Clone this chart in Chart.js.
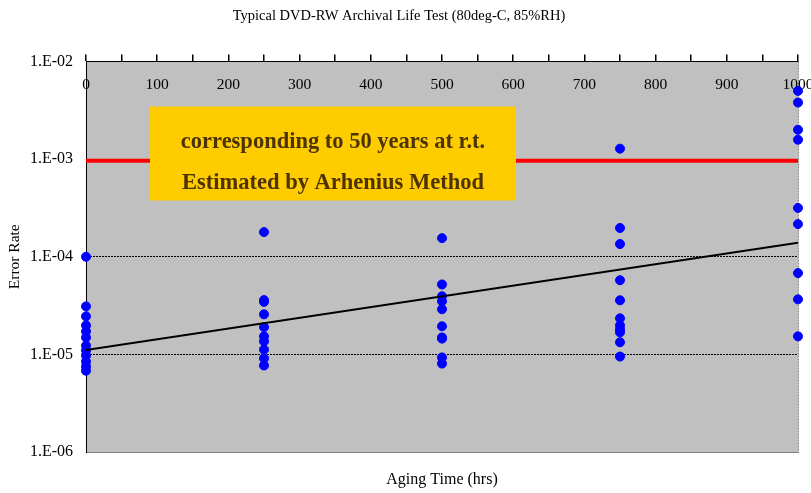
<!DOCTYPE html>
<html>
<head>
<meta charset="utf-8">
<script src="https://cdn.jsdelivr.net/npm/chart.js@4"></script>
<style>
  html, body { margin: 0; padding: 0; background: #fff; }
  #wrap { width: 811px; height: 493px; }
</style>
</head>
<body>
<div id="wrap"><canvas id="chart"></canvas></div>
<script>
// aging times (hrs) and the error rates measured at each one
const agingHours = [0, 250, 500, 750, 1000];
const rates0 = [1.0e-4, 3.1e-5, 2.45e-5, 1.98e-5, 1.72e-5, 1.49e-5, 1.23e-5, 1.1e-5, 9.75e-6, 8.45e-6, 7.5e-6, 6.8e-6];
const rates250 = [1.79e-4, 3.6e-5, 3.45e-5, 2.57e-5, 1.9e-5, 1.53e-5, 1.36e-5, 1.12e-5, 9.1e-6, 7.7e-6];
const rates500 = [1.55e-4, 5.2e-5, 3.94e-5, 3.5e-5, 2.9e-5, 1.94e-5, 1.49e-5, 1.45e-5, 9.3e-6, 8.05e-6];
const rates750 = [1.28e-3, 1.97e-4, 1.35e-4, 5.75e-5, 3.58e-5, 2.34e-5, 1.98e-5, 1.8e-5, 1.68e-5, 1.33e-5, 9.5e-6];
const rates1000 = [5.0e-3, 3.8e-3, 2.0e-3, 1.58e-3, 3.16e-4, 2.16e-4, 6.8e-5, 3.66e-5, 1.53e-5];
const ratesByHour = [rates0, rates250, rates500, rates750, rates1000];

// fitted trend and the limit line
const trendHours = [0, 1000];
const trendRates = [1.11e-5, 1.39e-4];
const limitHours = [0, 1000];
const limitRates = [9.6e-4, 9.6e-4];

const yTickValues = [1e-6, 1e-5, 1e-4, 1e-3, 1e-2];
const yTickLabels = ['1.E-06', '1.E-05', '1.E-04', '1.E-03', '1.E-02'];
const noteLines = ['corresponding to 50 years at r.t.', 'Estimated by Arhenius Method'];

const serif = "'Liberation Serif', 'Times New Roman', serif";

const points = agingHours.flatMap((h, i) => ratesByHour[i].map(r => ({ x: h, y: r })));

const plotBg = {
    id: 'plotBg',
    beforeDraw(chart) {
        const { ctx, chartArea: a } = chart;
        ctx.save();
        ctx.fillStyle = '#c0c0c0';
        ctx.fillRect(a.left, a.top, a.right - a.left, a.bottom - a.top);
        // right edge, grey dashed
        ctx.strokeStyle = '#808080';
        ctx.lineWidth = 1;
        ctx.setLineDash([2, 1]);
        ctx.beginPath();
        ctx.moveTo(a.right + 0.5, a.top);
        ctx.lineTo(a.right + 0.5, a.bottom);
        ctx.stroke();
        ctx.restore();
    }
};

// yellow note box
const noteBox = {
    id: 'noteBox',
    afterDatasetsDraw(chart) {
        const { ctx, chartArea: a } = chart;
        const x = a.left + 64, y = a.top + 45, w = 366, h = 94;
        ctx.save();
        ctx.fillStyle = '#ffcc00';
        ctx.fillRect(x, y, w, h);
        ctx.fillStyle = '#4d3300';
        ctx.font = 'bold 22.5px ' + serif;
        ctx.textAlign = 'center';
        ctx.textBaseline = 'middle';
        ctx.fillText(noteLines[0], x + w / 2, y + 36);
        ctx.fillText(noteLines[1], x + w / 2, y + 77);
        ctx.restore();
    }
};

const ctx = document.getElementById('chart').getContext('2d');

const chart = new Chart(ctx, {
    type: 'scatter',
    data: {
        datasets: [
            {
                label: 'limit',
                data: limitHours.map((h, i) => ({ x: h, y: limitRates[i] })),
                showLine: true,
                borderColor: '#ff0000',
                borderWidth: 4,
                pointRadius: 0,
            },
            {
                label: 'trend',
                data: trendHours.map((h, i) => ({ x: h, y: trendRates[i] })),
                showLine: true,
                borderColor: '#000000',
                borderWidth: 2,
                pointRadius: 0,
            },
            {
                label: 'Error Rate',
                data: points,
                backgroundColor: '#0000ff',
                borderColor: '#0000ff',
                pointRadius: 4.5,
                clip: false,
            }
        ]
    },
    options: {
        responsive: true,
        maintainAspectRatio: false,
        animation: false,
        layout: {
            padding: { left: 0, right: 13, top: 0, bottom: 0 }
        },
        plugins: {
            legend: { display: false },
            tooltip: { enabled: false },
            title: {
                display: true,
                text: 'Typical DVD-RW Archival Life Test (80deg-C, 85%RH)',
                color: '#000',
                font: { family: serif, size: 14.5, weight: 'normal' },
                padding: { top: 7, bottom: 0 }
            }
        },
        scales: {
            x: {
                type: 'linear',
                position: 'bottom',
                min: 0,
                max: 1000,
                ticks: { display: false },
                grid: { display: false },
                border: { color: '#808080', dash: [2, 1] },
                title: {
                    display: true,
                    text: 'Aging Time (hrs)',
                    color: '#000',
                    font: { family: serif, size: 16 },
                    padding: { top: 0, bottom: 4 }
                },
                afterFit: (s) => { s.height = 41; s.paddingLeft = 0; s.paddingRight = 0; }
            },
            x2: {
                type: 'linear',
                position: 'top',
                min: 0,
                max: 1000,
                ticks: {
                    stepSize: 50,
                    autoSkip: false,
                    maxRotation: 0,
                    mirror: true,
                    padding: 14,
                    color: '#000',
                    font: { family: serif, size: 15.5 },
                    callback: (v) => (v % 100 === 0 ? v : '')
                },
                grid: {
                    drawOnChartArea: false,
                    tickLength: 7,
                    color: '#000',
                    lineWidth: 1.5
                },
                border: { color: '#000', dash: [2, 1] },
                afterFit: (s) => { s.height = 61.5 - 24.4; s.paddingLeft = 0; s.paddingRight = 0; }
            },
            y: {
                type: 'logarithmic',
                min: 1e-6,
                max: 1e-2,
                afterBuildTicks: (s) => { s.ticks = yTickValues.map(v => ({ value: v })); },
                ticks: {
                    padding: 13,
                    color: '#000',
                    font: { family: serif, size: 16 },
                    callback: (v, i) => yTickLabels[i]
                },
                grid: {
                    drawTicks: false,
                    color: (c) => (c.index === 0 ? '#808080' : '#000'),
                    borderDash: [3, 1],
                    lineWidth: 1
                },
                border: { color: '#000', dash: [2, 1] },
                title: {
                    display: true,
                    text: 'Error Rate',
                    color: '#000',
                    font: { family: serif, size: 15.5 },
                    padding: { top: 6, bottom: 0 }
                },
                afterFit: (s) => { s.width = 86; s.paddingTop = 0; s.paddingBottom = 0; }
            }
        }
    },
    plugins: [plotBg, noteBox]
});
</script>
</body>
</html>
